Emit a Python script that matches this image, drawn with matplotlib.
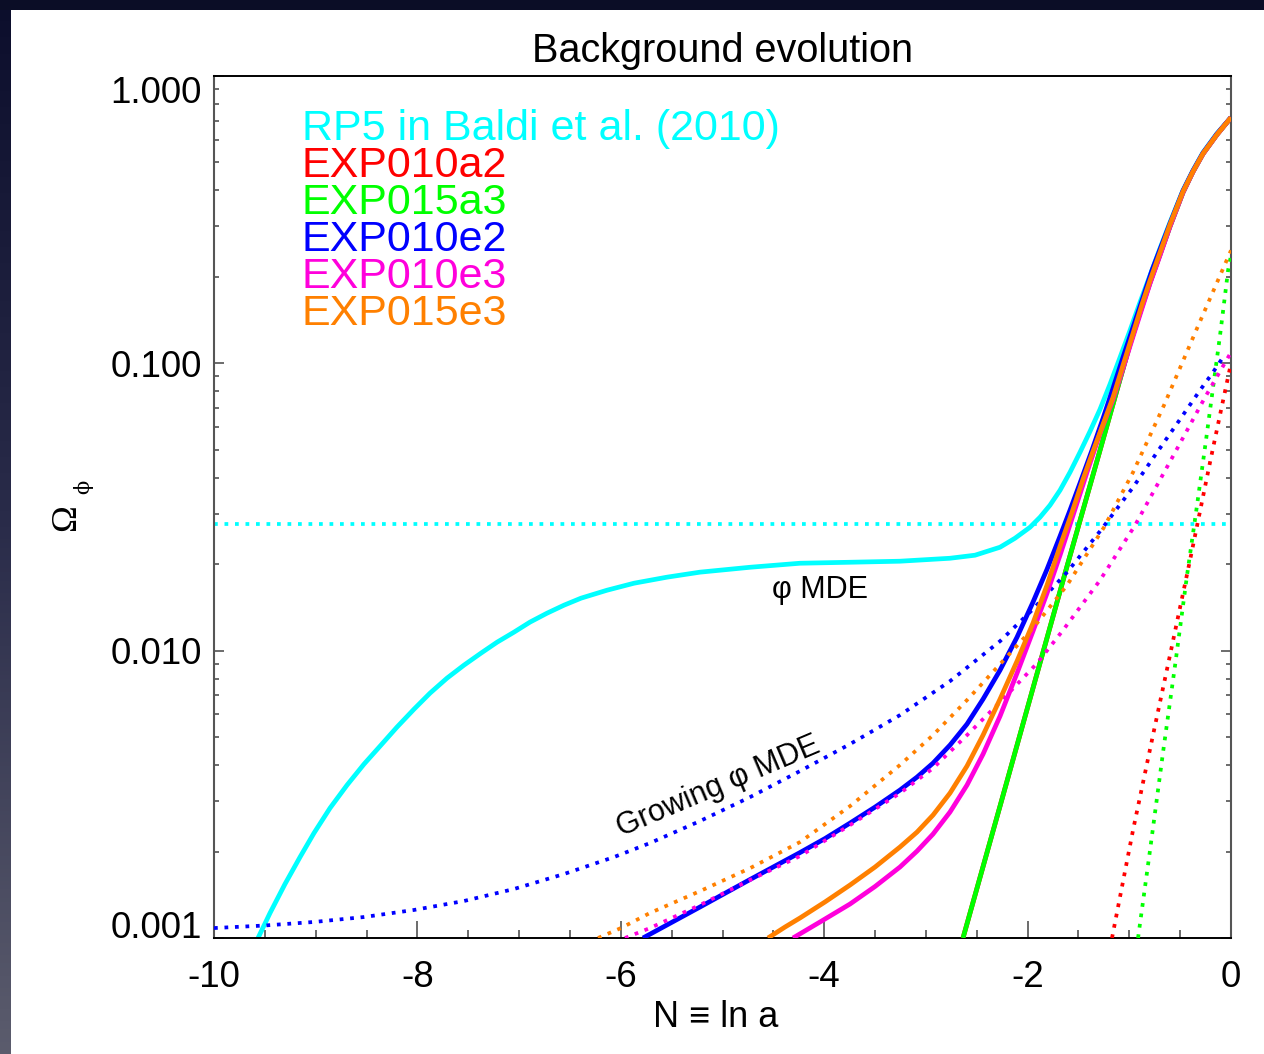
import matplotlib
matplotlib.use("Agg")
import numpy as np
import matplotlib.pyplot as plt
from matplotlib.patches import Rectangle
from matplotlib.colors import LinearSegmentedColormap
from matplotlib.ticker import MultipleLocator, LogLocator, NullFormatter, FixedLocator, FixedFormatter

plt.rcParams['font.family'] = ['Liberation Sans', 'DejaVu Sans']

# ---------------- data: Omega_phi versus N = ln a ----------------
# RP5 (Baldi et al. 2010)
rp5_N = [-9.567, -9.449, -9.302, -9.154, -9.017, -8.859, -8.692, -8.525, -8.358, -8.201,
         -8.033, -7.876, -7.709, -7.542, -7.375, -7.217, -7.050, -6.893, -6.726, -6.558,
         -6.391, -6.136, -5.870, -5.546, -5.221, -4.729, -4.238, -3.746, -3.255, -2.763,
         -2.517, -2.271, -2.124, -1.976, -1.878, -1.780, -1.681, -1.583, -1.485, -1.386,
         -1.288, -1.190, -1.091, -0.993, -0.895, -0.796, -0.698, -0.600, -0.472, -0.374,
         -0.275, -0.138, 0.0]
rp5_omega = [0.001000, 0.001222, 0.001541, 0.001913, 0.002318, 0.002833, 0.003405, 0.004029,
             0.004692, 0.005419, 0.006259, 0.007115, 0.008023, 0.008904, 0.009802, 0.01070,
             0.01160, 0.01257, 0.01350, 0.01440, 0.01523, 0.01623, 0.01717, 0.01802, 0.01876,
             0.01951, 0.02015, 0.02031, 0.02048, 0.02097, 0.02149, 0.02291, 0.02462, 0.02689,
             0.02913, 0.03207, 0.03617, 0.04177, 0.04901, 0.05800, 0.06918, 0.08453, 0.1049,
             0.1302, 0.1630, 0.2024, 0.2512, 0.3094, 0.3998, 0.4692, 0.5419, 0.6310, 0.7173]
# phi-MDE plateau level of RP5
rp5_mde_N = [-10.0, 0.0]
rp5_mde_omega = [0.0277, 0.0277]

# EXP010a2 / EXP015a3
exp010a2_N = [-2.635, -2.271, -1.947, -1.612, -1.288, -1.091, -0.993, -0.875, -0.796, -0.698,
              -0.600, -0.472, -0.374, -0.275, -0.138, 0.0]
exp010a2_omega = [0.001, 0.002878, 0.007407, 0.01968, 0.04981, 0.08799, 0.1165, 0.1579, 0.1913,
                  0.2394, 0.2996, 0.3934, 0.4640, 0.5360, 0.6250, 0.7173]
exp015a3_N = [-2.635, -2.271, -1.947, -1.612, -1.288, -1.091, -0.993, -0.875, -0.796, -0.698,
              -0.600, -0.472, -0.374, -0.275, -0.138, 0.0]
exp015a3_omega = [0.001, 0.002878, 0.007407, 0.01968, 0.04981, 0.08799, 0.1165, 0.1579, 0.1913,
                  0.2394, 0.2996, 0.3934, 0.4640, 0.5360, 0.6250, 0.7173]

exp010a2_dot_N = [-1.170, -0.963, -0.767, -0.600, -0.403, -0.206, -0.088, 0.0]
exp010a2_dot_omega = [0.001, 0.002377, 0.005082, 0.009640, 0.02065, 0.04529, 0.07145, 0.1000]
exp015a3_dot_N = [-0.914, -0.796, -0.668, -0.550, -0.432, -0.334, -0.246, -0.167, -0.108,
                  -0.059, -0.029, 0.0]
exp015a3_dot_omega = [0.001, 0.002023, 0.004436, 0.008892, 0.01832, 0.03206, 0.05395, 0.08730,
                      0.1250, 0.1722, 0.2104, 0.2372]

# EXP010e2
exp010e2_N = [-5.782, -5.221, -4.729, -4.238, -3.992, -3.746, -3.500, -3.255, -3.087, -2.930,
              -2.763, -2.596, -2.438, -2.271, -2.104, -1.947, -1.809, -1.681, -1.583, -1.485,
              -1.367, -1.258, -1.160, -1.062, -0.963, -0.865, -0.777, -0.698, -0.600, -0.472,
              -0.374, -0.275, -0.138, 0.0]
exp010e2_omega = [0.001, 0.001282, 0.001598, 0.001983, 0.002219, 0.002512, 0.002855, 0.003272,
                  0.003631, 0.004061, 0.004692, 0.005551, 0.006782, 0.008553, 0.01114, 0.01475,
                  0.01920, 0.02502, 0.03082, 0.03825, 0.04981, 0.06436, 0.08189, 0.1049, 0.1335,
                  0.1697, 0.2106, 0.2492, 0.3069, 0.3990, 0.4680, 0.5400, 0.6290, 0.7173]
# growing phi-MDE branch of EXP010e2
exp010e2_dot_N = [-10.0, -9.508, -9.017, -8.525, -8.033, -7.542, -7.050, -6.558, -6.067, -5.713,
                  -5.221, -4.729, -4.238, -3.746, -3.255, -2.763, -2.271, -1.947, -1.612, -1.288,
                  -0.963, -0.727, -0.501, -0.305, -0.177, -0.079]
exp010e2_dot_omega = [0.001083, 0.001105, 0.001137, 0.001183, 0.001252, 0.001345, 0.001481,
                      0.001670, 0.001913, 0.002140, 0.002553, 0.003093, 0.003810, 0.004730,
                      0.005966, 0.007832, 0.01079, 0.01394, 0.01876, 0.02604, 0.03704, 0.04901,
                      0.06385, 0.08056, 0.09305, 0.1049]

# EXP010e3
exp010e3_N = [-4.307, -4.041, -3.746, -3.500, -3.255, -3.087, -2.930, -2.763, -2.596, -2.438,
              -2.271, -2.104, -1.947, -1.809, -1.681, -1.553, -1.416, -1.288, -1.160, -1.062,
              -0.963, -0.875, -0.796, -0.698, -0.600, -0.472, -0.374, -0.275, -0.138, 0.0]
exp010e3_omega = [0.001, 0.001137, 0.001313, 0.001511, 0.001766, 0.002007, 0.002300, 0.002744,
                  0.003405, 0.004365, 0.005918, 0.008350, 0.01169, 0.01585, 0.02149, 0.02960,
                  0.04177, 0.05707, 0.07496, 0.09607, 0.1241, 0.1554, 0.1898, 0.2375, 0.2996,
                  0.3934, 0.4640, 0.5360, 0.6250, 0.7173]
exp010e3_dot_N = [-5.959, -5.713, -5.221, -4.729, -4.238, -3.746, -3.255, -2.930, -2.596, -2.271,
                  -1.907, -1.652, -1.288, -0.944, -0.550, -0.255, 0.0]
exp010e3_dot_omega = [0.001, 0.001083, 0.001303, 0.001592, 0.001928, 0.002472, 0.003191, 0.003899,
                      0.005082, 0.006622, 0.009036, 0.01178, 0.01758, 0.02729, 0.04898, 0.07618,
                      0.1092]

# EXP015e3
exp015e3_N = [-4.553, -4.385, -4.238, -3.992, -3.746, -3.500, -3.255, -3.087, -2.930, -2.763,
              -2.596, -2.438, -2.271, -2.104, -1.947, -1.809, -1.681, -1.563, -1.455, -1.357,
              -1.258, -1.160, -1.062, -0.963, -0.875, -0.796, -0.698, -0.600, -0.472, -0.374,
              -0.275, -0.138, 0.0]
exp015e3_omega = [0.001, 0.001092, 0.001174, 0.001335, 0.001529, 0.001766, 0.002073, 0.002337,
                  0.002678, 0.003194, 0.003966, 0.005083, 0.006782, 0.009194, 0.01247, 0.01690,
                  0.02309, 0.03033, 0.03950, 0.04941, 0.06135, 0.07617, 0.09842, 0.1272, 0.1604,
                  0.1944, 0.2433, 0.3045, 0.3966, 0.4655, 0.5377, 0.6261, 0.7173]
exp015e3_dot_N = [-6.224, -5.998, -5.713, -5.221, -4.729, -4.238, -3.746, -3.255, -2.930, -2.596,
                  -2.271, -1.947, -1.612, -1.249, -0.963, -0.659, -0.334, 0.0]
exp015e3_dot_omega = [0.001, 0.001083, 0.001222, 0.001456, 0.001750, 0.002157, 0.002877, 0.004000,
                      0.005082, 0.006730, 0.008974, 0.01197, 0.01690, 0.02686, 0.04178, 0.07145,
                      0.1324, 0.2472]

model_labels = ['RP5 in Baldi et al. (2010)', 'EXP010a2', 'EXP015a3', 'EXP010e2', 'EXP010e3', 'EXP015e3']
model_colors = ['#00FFFF', '#FF0000', '#00FF00', '#0000FF', '#FF00DC', '#FF8000']

x_ticks = [-10, -8, -6, -4, -2, 0]
x_ticklabels = ['-10', '-8', '-6', '-4', '-2', '0']
y_ticks = [0.001, 0.01, 0.1, 1.0]
y_ticklabels = ['0.001', '0.010', '0.100', '1.000']

# ---------------- figure ----------------
W, H = 1264, 1054
fig = plt.figure(figsize=(W / 100, H / 100), dpi=100)
fig.patch.set_facecolor('white')

# dark frame around the white panel
bg = fig.add_axes([0, 0, 1, 1], zorder=-5)
frame_cmap = LinearSegmentedColormap.from_list('frame', ['#0c0e2c', '#2a2c4a', '#5b5c6d'])
bg.imshow(np.linspace(0, 1, 256).reshape(-1, 1), cmap=frame_cmap, extent=[0, 11, H, 0], aspect='auto')
bg.add_patch(Rectangle((0, 0), W, 10, color='#0b0d26', lw=0))
bg.set_xlim(0, W)
bg.set_ylim(H, 0)
bg.axis('off')

ax = fig.add_axes([214 / W, 116 / H, 1017 / W, 862 / H])
ax.set_yscale('log')
ax.set_xlim(-10, 0)
ax.set_ylim(0.001, 1.0)

solid = dict(lw=3.4, solid_capstyle='butt', solid_joinstyle='round')
dotted = dict(lw=2.7, ls=(0, (1, 1.8)), dash_capstyle='butt')

ax.plot(rp5_N, rp5_omega, color=model_colors[0], **solid, zorder=2)
ax.plot(rp5_mde_N, rp5_mde_omega, color=model_colors[0], **dotted, zorder=2)
ax.plot(exp010a2_N, exp010a2_omega, color=model_colors[1], **solid, zorder=3)
ax.plot(exp010a2_dot_N, exp010a2_dot_omega, color=model_colors[1], **dotted, zorder=3)
ax.plot(exp015a3_N, exp015a3_omega, color=model_colors[2], **solid, zorder=4)
ax.plot(exp015a3_dot_N, exp015a3_dot_omega, color=model_colors[2], **dotted, zorder=4)
ax.plot(exp010e2_N, exp010e2_omega, color=model_colors[3], **solid, zorder=5)
ax.plot(exp010e2_dot_N, exp010e2_dot_omega, color=model_colors[3], **dotted, zorder=5)
ax.plot(exp010e3_N, exp010e3_omega, color=model_colors[4], **solid, zorder=6)
ax.plot(exp010e3_dot_N, exp010e3_dot_omega, color=model_colors[4], **dotted, zorder=6)
ax.plot(exp015e3_N, exp015e3_omega, color=model_colors[5], **solid, zorder=7)
ax.plot(exp015e3_dot_N, exp015e3_dot_omega, color=model_colors[5], **dotted, zorder=7)

# axes styling
for side in ('top', 'bottom'):
    ax.spines[side].set_color('black')
    ax.spines[side].set_linewidth(1.4)
for side in ('left', 'right'):
    ax.spines[side].set_color('#555555')
    ax.spines[side].set_linewidth(1.5)

ax.xaxis.set_major_locator(FixedLocator(x_ticks))
ax.xaxis.set_major_formatter(FixedFormatter(x_ticklabels))
ax.xaxis.set_minor_locator(MultipleLocator(0.5))
ax.yaxis.set_major_locator(FixedLocator(y_ticks))
ax.yaxis.set_major_formatter(FixedFormatter(y_ticklabels))
ax.yaxis.set_minor_locator(LogLocator(base=10, subs=np.arange(2, 10)))
ax.yaxis.set_minor_formatter(NullFormatter())

ax.tick_params(axis='both', which='both', direction='in', top=False, right=True,
               color='#444444', width=1.1)
ax.tick_params(axis='x', which='major', length=12.2, pad=15.5, labelsize=26.5)
ax.tick_params(axis='x', which='minor', length=5.8)
ax.tick_params(axis='y', which='major', length=7.2, pad=8.6, labelsize=26.5)
ax.tick_params(axis='y', which='minor', length=3.8)

ylabels = ax.get_yticklabels()
ylabels[0].set_va('baseline')
ylabels[-1].set_va('top')

# in-plot annotations
ax.text(-4.04, 0.0162, 'φ MDE', ha='center', va='center', fontsize=22)
ax.text(-5.044, 0.00335, 'Growing φ MDE', ha='center', va='center', fontsize=22,
        rotation=23, rotation_mode='anchor')

# coloured model list
legend_y = [0.9258, 0.8828, 0.8399, 0.7970, 0.7541, 0.7111]
for lab, col, yy in zip(model_labels, model_colors, legend_y):
    ax.text(0.0865, yy, lab, color=col, fontsize=31, va='baseline', ha='left',
            transform=ax.transAxes)

# title and axis labels
fig.text(722.5 / W, 1 - 62 / H, 'Background evolution', ha='center', va='baseline', fontsize=28.5)
fig.text(716 / W, 1 - 1027 / H, 'N ≡ ln a', ha='center', va='baseline', fontsize=26)
fig.text(67 / W, 1 - 518 / H, 'Ω', rotation=90, ha='center', va='center', fontsize=26,
         family=['Liberation Serif', 'DejaVu Serif'])
fig.text(83 / W, 1 - 487 / H, 'ϕ', rotation=90, ha='center', va='center', fontsize=15,
         family=['DejaVu Serif'])

fig.savefig('out.png', dpi=100, facecolor=fig.get_facecolor())
